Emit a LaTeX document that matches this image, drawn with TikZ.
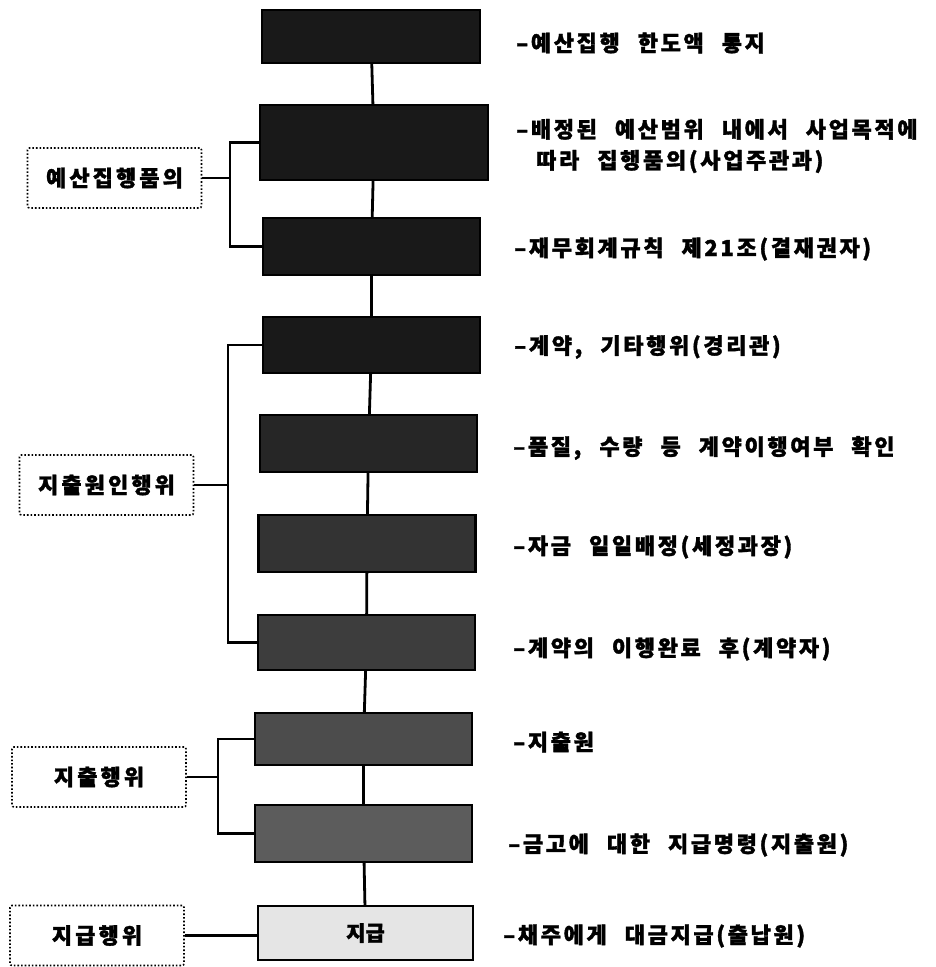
\documentclass[tikz,border=0pt]{standalone}
\usepackage{fontspec}
\setmainfont{Noto Sans CJK KR}[BoldFeatures={FakeBold=1.5}]
\newfontfamily\notefont{Noto Sans CJK KR}[LetterSpace=12, BoldFeatures={FakeBold=1.5}]
\newfontfamily\groupfont{Noto Sans CJK KR}[LetterSpace=14, BoldFeatures={FakeBold=1.5}]
\newcommand\notegap{\spaceskip=18pt plus 2pt minus 2pt\relax}
\usetikzlibrary{positioning}

\tikzset{
  stage/.style={draw, line width=2.4pt, fill=black!90, minimum width=217pt, minimum height=56pt, inner sep=0pt},
  group/.style={draw, dotted, line width=1.6pt, rounded corners=2pt, minimum width=174pt, minimum height=60pt,
    font=\groupfont\fontsize{22}{25}\selectfont\bfseries},
  note/.style={anchor=west, align=left, inner sep=0pt,
    font=\notefont\fontsize{22}{31}\selectfont\bfseries\notegap},
  link/.style={line width=2.8pt}
}

\begin{document}
\begin{tikzpicture}[x=1pt, y=-1pt]
  \useasboundingbox (0,0) rectangle (935,967);

  \node (b1) [stage, minimum width=218pt, minimum height=53pt] at (371,36.5) {};
  \node (b2) [stage, minimum width=228pt, minimum height=75pt] at (374,142.5) {};
  \node (b3) [stage, minimum height=57pt] at (371.5,246.5) {};
  \node (b4) [stage] at (371.5,345) {};
  \node (b5) [stage, fill=black!85, minimum height=57pt] at (368.5,443.5) {};
  \node (b6) [stage, fill=black!80, minimum height=57pt] at (367,543.5) {};
  \node (b7) [stage, fill=black!76, minimum height=55pt] at (366.5,642.5) {};
  \node (b8) [stage, fill=black!70, minimum height=52pt] at (363.5,739) {};
  \node (b9) [stage, fill=black!64, minimum height=57pt] at (363.5,833.5) {};
  \node (b10) [stage, fill=black!10, minimum width=215pt, minimum height=54pt,
    font=\fontsize{21}{23}\selectfont\bfseries] at (365.5,933) {지급};

  \path [link]
    (b1) edge (b2)
    (b2) edge (b3)
    (b3) edge (b4)
    (b4) edge (b5)
    (b5) edge (b6)
    (b6) edge (b7)
    (b7) edge (b8)
    (b8) edge (b9)
    (b9) edge (b10);

  \node (g1) [group] at (114.5,178) {예산집행품의};
  \node (g2) [group] at (106.5,485) {지출원인행위};
  \node (g3) [group] at (99,777) {지출행위};
  \node (g4) [group] at (97,935.5) {지급행위};

  \coordinate (j1) at (230,178);
  \coordinate (j2) at (228,485);
  \coordinate (j3) at (218,777);

  \draw [link] (b2.west) -| (j1) |- (b3.west);
  \draw [link] (g1.east) -- (j1);
  \draw [link] (b4.west) -| (j2) |- (b7.west);
  \draw [link] (g2.east) -- (j2);
  \draw [link] (b8.west) -| (j3) |- (b9.west);
  \draw [link] (g3.east) -- (j3);
  \draw [link] (g4.east) -- (g4.east -| b10.west);

  \node (t1) [note] at (516,43) {–예산집행 한도액 통지};
  \node (t2) [note] at (516,146) {–배정된 예산범위 내에서 사업목적에\\\hspace*{20pt}따라 집행품의(사업주관과)};
  \node (t3) [note] at (514,249) {–재무회계규칙 제21조(결재권자)};
  \node (t4) [note] at (514,347) {–계약, 기타행위(경리관)};
  \node (t5) [note] at (513,448) {–품질, 수량 등 계약이행여부 확인};
  \node (t6) [note] at (513,547) {–자금 일일배정(세정과장)};
  \node (t7) [note] at (513,649) {–계약의 이행완료 후(계약자)};
  \node (t8) [note] at (513,742) {–지출원};
  \node (t9) [note] at (508,845) {–금고에 대한 지급명령(지출원)};
  \node (t10) [note] at (503,936) {–채주에게 대금지급(출납원)};
\end{tikzpicture}
\end{document}
